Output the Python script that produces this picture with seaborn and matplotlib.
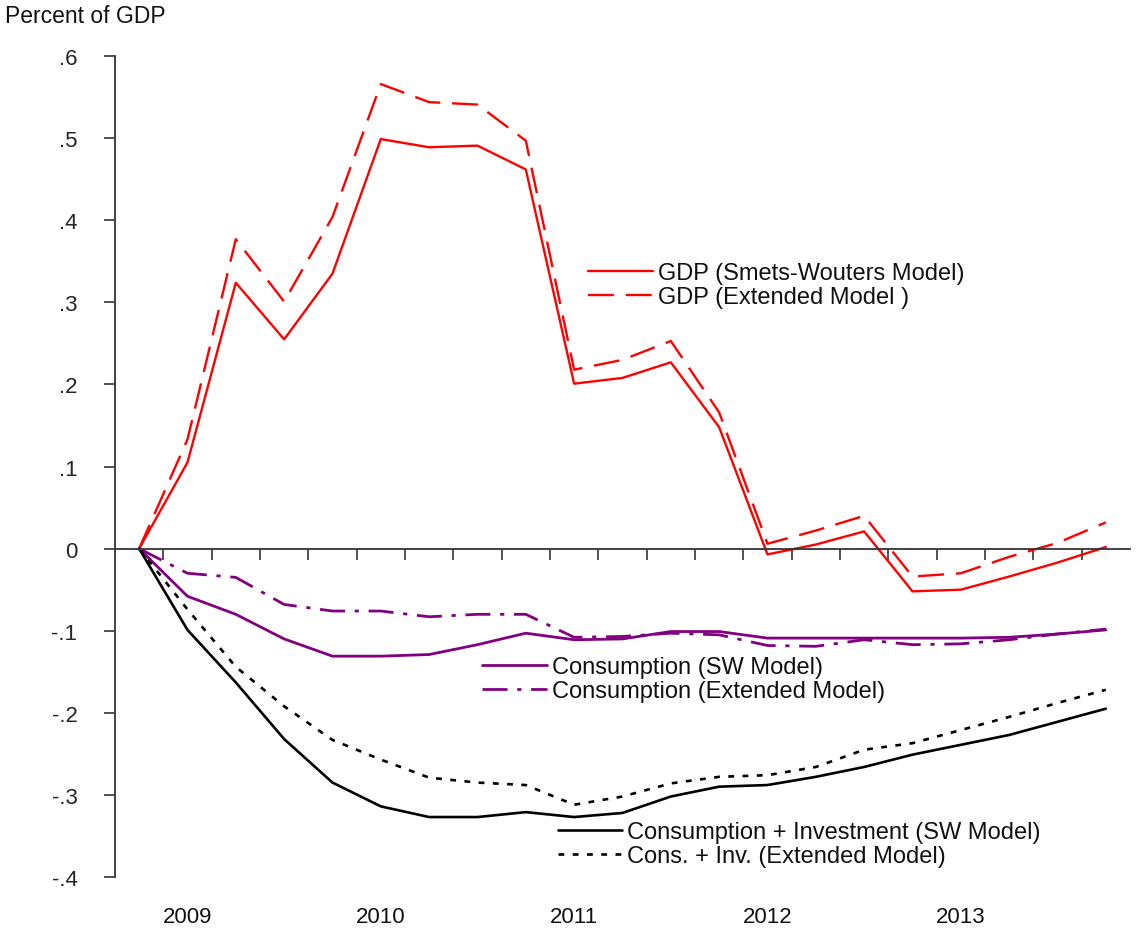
import numpy as np
import pandas as pd
import matplotlib
matplotlib.use("Agg")
import matplotlib.pyplot as plt
import matplotlib.transforms as mtransforms
from matplotlib.lines import Line2D
import seaborn as sns

# ---------------- data ----------------
quarters = ["2008Q4",
            "2009Q1", "2009Q2", "2009Q3", "2009Q4",
            "2010Q1", "2010Q2", "2010Q3", "2010Q4",
            "2011Q1", "2011Q2", "2011Q3", "2011Q4",
            "2012Q1", "2012Q2", "2012Q3", "2012Q4",
            "2013Q1", "2013Q2", "2013Q3", "2013Q4"]

gdp_sw = [0, 0.105, 0.324, 0.255, 0.335, 0.499, 0.489, 0.491, 0.462, 0.201, 0.208,
          0.227, 0.148, -0.007, 0.005, 0.021, -0.052, -0.050, -0.034, -0.017, 0.002]
gdp_ext = [0, 0.133, 0.377, 0.301, 0.404, 0.566, 0.544, 0.541, 0.497, 0.218, 0.230,
           0.253, 0.166, 0.006, 0.022, 0.040, -0.034, -0.030, -0.010, 0.007, 0.032]
cons_sw = [0, -0.058, -0.080, -0.110, -0.131, -0.131, -0.129, -0.117, -0.103, -0.111, -0.110,
           -0.101, -0.101, -0.109, -0.109, -0.109, -0.109, -0.109, -0.108, -0.104, -0.099]
cons_ext = [0, -0.030, -0.035, -0.068, -0.076, -0.076, -0.083, -0.080, -0.080, -0.108, -0.107,
            -0.103, -0.105, -0.118, -0.119, -0.111, -0.117, -0.116, -0.111, -0.104, -0.098]
ci_sw = [0, -0.099, -0.163, -0.232, -0.285, -0.314, -0.327, -0.327, -0.321, -0.327, -0.322,
         -0.302, -0.290, -0.288, -0.278, -0.266, -0.251, -0.239, -0.227, -0.211, -0.195]
ci_ext = [0, -0.074, -0.144, -0.192, -0.233, -0.257, -0.279, -0.285, -0.288, -0.312, -0.302,
          -0.286, -0.278, -0.276, -0.266, -0.245, -0.237, -0.221, -0.205, -0.188, -0.172]

series_labels = ["GDP (Smets-Wouters Model)", "GDP (Extended Model )",
                 "Consumption (SW Model)", "Consumption (Extended Model)",
                 "Consumption + Investment (SW Model)", "Cons. + Inv. (Extended Model)"]
yticks = [0.6, 0.5, 0.4, 0.3, 0.2, 0.1, 0.0, -0.1, -0.2, -0.3, -0.4]
ytick_labels = [".6", ".5", ".4", ".3", ".2", ".1", "0", "-.1", "-.2", "-.3", "-.4"]
y_title = "Percent of GDP"

# ---------------- style ----------------
sns.set_style("white")
plt.rcParams["font.family"] = ["Liberation Sans", "DejaVu Sans"]

fig = plt.figure(figsize=(11.36, 9.37), dpi=100)
ax = fig.add_axes([0.1012, 0.063, 0.8935, 0.876])

x = np.arange(len(quarters))
df = pd.DataFrame({"x": x, "gdp_sw": gdp_sw, "gdp_ext": gdp_ext, "cons_sw": cons_sw,
                   "cons_ext": cons_ext, "ci_sw": ci_sw, "ci_ext": ci_ext})

RED = "#FF0000"
PURPLE = "#800080"
BLACK = "#000000"
styles = {
    "gdp_sw": dict(color=RED, lw=1.7, ls="-"),
    "gdp_ext": dict(color=RED, lw=1.7, ls=(0, (11, 5))),
    "cons_sw": dict(color=PURPLE, lw=2.0, ls="-"),
    "cons_ext": dict(color=PURPLE, lw=2.0, ls=(0, (9, 3.5, 1.5, 3.5))),
    "ci_sw": dict(color=BLACK, lw=1.9, ls="-"),
    "ci_ext": dict(color=BLACK, lw=1.9, ls=(0, (2.2, 3.2))),
}
cols = ["gdp_sw", "gdp_ext", "cons_sw", "cons_ext", "ci_sw", "ci_ext"]
for c in cols:
    st = styles[c]
    sns.lineplot(data=df, x="x", y=c, ax=ax, color=st["color"], linewidth=st["lw"],
                 linestyle=st["ls"], legend=False)

ax.set_xlim(-0.5, len(quarters) - 0.5)
ax.set_ylim(-0.4, 0.6)
ax.set_xlabel("")
ax.set_ylabel("")

# spines
for s in ["top", "right"]:
    ax.spines[s].set_visible(False)
ax.spines["left"].set_color("#333333")
ax.spines["left"].set_linewidth(1.3)
ax.spines["bottom"].set_position(("data", 0))
ax.spines["bottom"].set_color("#333333")
ax.spines["bottom"].set_linewidth(1.3)

# y ticks
ax.set_yticks(yticks)
ax.set_yticklabels(ytick_labels)
ax.tick_params(axis="y", direction="out", length=8, width=1.2, color="#333333",
               pad=19, labelsize=16, left=True)

# x ticks: quarter boundaries on the zero line, no labels
ax.set_xticks(x[:-1] + 0.5)
ax.set_xticklabels([])
ax.tick_params(axis="x", direction="out", length=8, width=1.2, color="#333333",
               bottom=True)

# year labels at the first quarter of each year
trans = mtransforms.blended_transform_factory(ax.transData, ax.transAxes)
for i, q in enumerate(quarters):
    if q.endswith("Q1"):
        ax.text(x[i], -0.048, q[:4], transform=trans, ha="center", va="center",
                fontsize=16, color="#111111")

fig.text(0.004, 0.982, y_title, ha="left", va="center", fontsize=16.5, color="#111111")

# legends
def make_handles(keys):
    return [Line2D([0], [0], color=styles[k]["color"], lw=styles[k]["lw"],
                   ls=styles[k]["ls"]) for k in keys]

leg_kw = dict(frameon=False, fontsize=17, handlelength=2.75, handletextpad=0.2,
              labelspacing=0.08, borderpad=0, borderaxespad=0, loc="center left")
l1 = ax.legend(make_handles(cols[0:2]), series_labels[0:2],
               bbox_to_anchor=(0.466, 0.721), **leg_kw)
ax.add_artist(l1)
l2 = ax.legend(make_handles(cols[2:4]), series_labels[2:4],
               bbox_to_anchor=(0.362, 0.241), **leg_kw)
ax.add_artist(l2)
l3 = ax.legend(make_handles(cols[4:6]), series_labels[4:6],
               bbox_to_anchor=(0.436, 0.040), **leg_kw)
for lg in (l1, l2, l3):
    for t in lg.get_texts():
        t.set_color("#111111")

fig.savefig("out.png", dpi=100, facecolor="white")
